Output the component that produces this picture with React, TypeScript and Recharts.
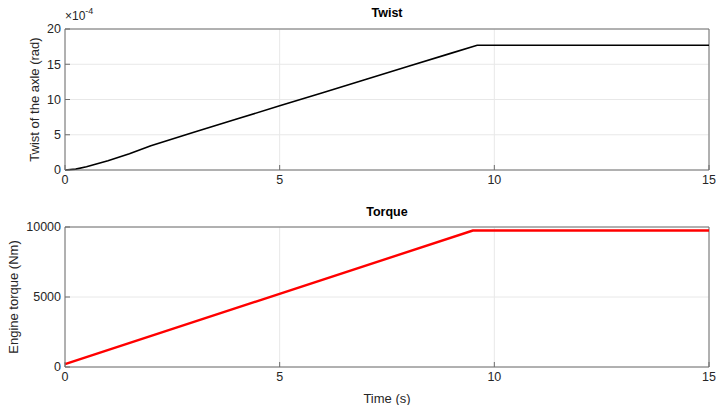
import React from 'react';
import { LineChart, Line, XAxis, YAxis, CartesianGrid, ReferenceLine } from 'recharts';

// Twist of the axle (rad) over time (s)
const twistTime = [0, 0.25, 0.5, 0.75, 1, 1.25, 1.5, 2, 3, 4, 5, 6, 7, 8, 9, 9.6, 15];
const twistRad = [0, 0.000013, 0.000045, 0.000088, 0.000132, 0.00018, 0.00023, 0.000345, 0.000535, 0.000723, 0.00091, 0.001097, 0.001284, 0.001471, 0.001658, 0.00177, 0.00177];

// Engine torque (Nm) over time (s)
const torqueTime = [0, 9.5, 15];
const torqueNm = [200, 9750, 9750];

const timeTicks = [0, 5, 10, 15];
const twistTicks = [0, 0.0005, 0.001, 0.0015, 0.002];
const torqueTicks = [0, 5000, 10000];

const twistData = twistTime.map((t, i) => ({ t, v: twistRad[i] }));
const torqueData = torqueTime.map((t, i) => ({ t, v: torqueNm[i] }));

const font = '"Liberation Sans", Arial, Helvetica, sans-serif';
const ink = '#262626';
const axisColor = '#6e6e6e';
const tickStyle = { fill: ink, fontSize: 12.5, fontFamily: font };

const titleStyle: React.CSSProperties = {
    position: 'absolute',
    left: 65,
    width: 644,
    textAlign: 'center',
    fontFamily: font,
    fontWeight: 'bold',
    fontSize: 12.5,
    color: '#000',
};

export default function App() {
    return (
        <div style={{ position: 'absolute', left: 0, top: 0, width: 719, height: 405, background: '#fff', fontFamily: font }}>
            <div style={{ position: 'absolute', left: 0, top: 0 }}>
                <LineChart width={719} height={190} data={twistData} margin={{ top: 29, right: 10, left: 0, bottom: 0 }}>
                    <CartesianGrid stroke="#e8e8e8" />
                    <XAxis
                        dataKey="t"
                        type="number"
                        domain={[0, 15]}
                        ticks={timeTicks}
                        height={20}
                        tick={tickStyle}
                        stroke={axisColor}
                        tickSize={-5}
                        tickMargin={10}
                    />
                    <YAxis
                        type="number"
                        domain={[0, 0.002]}
                        ticks={twistTicks}
                        width={65}
                        tick={tickStyle}
                        tickFormatter={(v: number) => `${Math.round(v * 10000)}`}
                        stroke={axisColor}
                        tickSize={-5}
                        tickMargin={9}
                        label={{ value: 'Twist of the axle (rad)', angle: -90, position: 'insideLeft', offset: 34, style: { fill: ink, fontSize: 13, fontFamily: font, textAnchor: 'middle' } }}
                    />
                    <ReferenceLine x={15} stroke={axisColor} ifOverflow="extendDomain" />
                    <ReferenceLine y={0.002} stroke={axisColor} ifOverflow="extendDomain" />
                    <Line dataKey="v" stroke="#000" strokeWidth={1.6} dot={false} isAnimationActive={false} type="linear" />
                </LineChart>
            </div>

            <div style={{ position: 'absolute', left: 0, top: 190 }}>
                <LineChart width={719} height={215} data={torqueData} margin={{ top: 37, right: 10, left: 0, bottom: 0 }}>
                    <CartesianGrid stroke="#e8e8e8" />
                    <XAxis
                        dataKey="t"
                        type="number"
                        domain={[0, 15]}
                        ticks={timeTicks}
                        height={38}
                        tick={tickStyle}
                        stroke={axisColor}
                        tickSize={-5}
                        tickMargin={10}
                        label={{ value: 'Time (s)', position: 'insideBottom', offset: 2, style: { fill: ink, fontSize: 13, fontFamily: font } }}
                    />
                    <YAxis
                        type="number"
                        domain={[0, 10000]}
                        ticks={torqueTicks}
                        width={65}
                        tick={tickStyle}
                        stroke={axisColor}
                        tickSize={-5}
                        tickMargin={9}
                        label={{ value: 'Engine torque (Nm)', angle: -90, position: 'insideLeft', offset: 13, style: { fill: ink, fontSize: 13, fontFamily: font, textAnchor: 'middle' } }}
                    />
                    <ReferenceLine x={15} stroke={axisColor} ifOverflow="extendDomain" />
                    <ReferenceLine y={10000} stroke={axisColor} ifOverflow="extendDomain" />
                    <Line dataKey="v" stroke="#ff0000" strokeWidth={2.4} dot={false} isAnimationActive={false} type="linear" />
                </LineChart>
            </div>

            <div style={{ ...titleStyle, top: 6 }}>Twist</div>
            <div style={{ position: 'absolute', left: 65, top: 9, fontSize: 12, color: ink, fontFamily: font }}>
                ×10<sup style={{ fontSize: 9, verticalAlign: 'top', position: 'relative', top: -3 }}>-4</sup>
            </div>
            <div style={{ ...titleStyle, top: 205 }}>Torque</div>
        </div>
    );
}
